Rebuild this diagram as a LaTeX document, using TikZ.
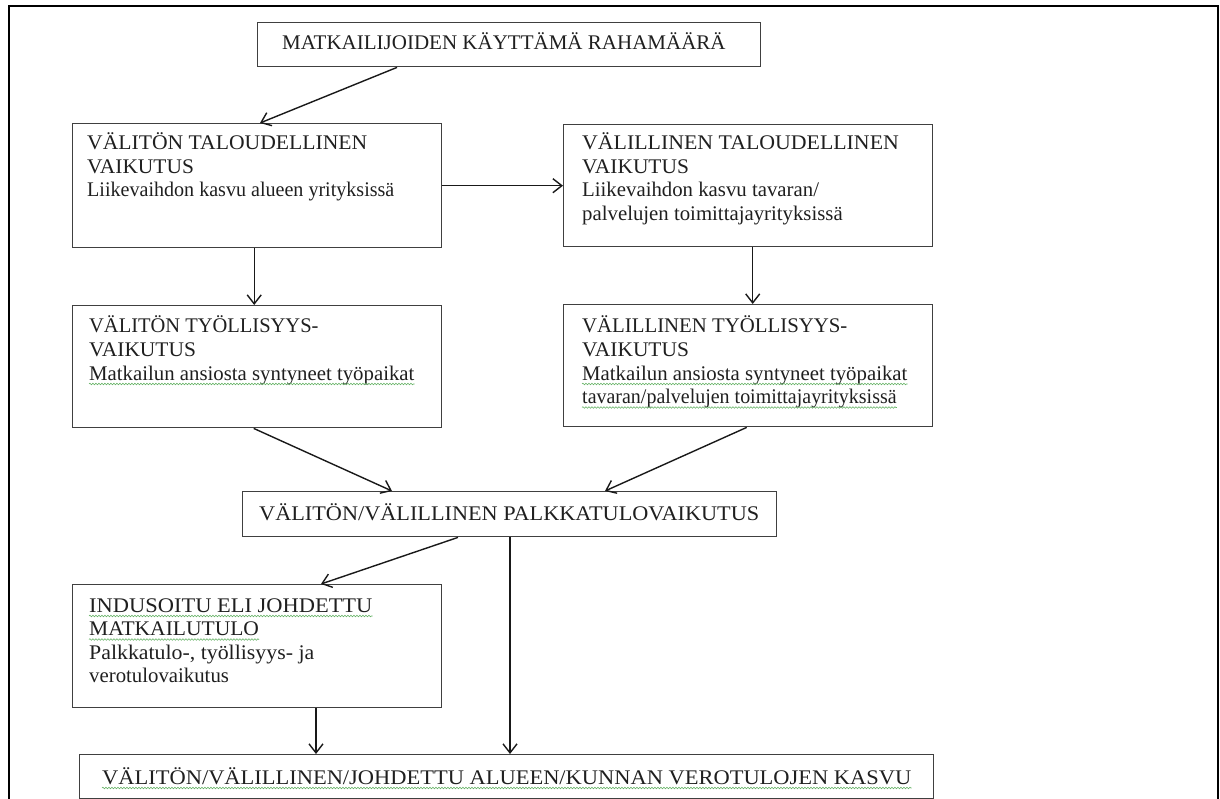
\documentclass[tikz,border=0pt]{standalone}
\usepackage{fontspec}
\usepackage{graphicx}
\setmainfont{Liberation Serif}
\usetikzlibrary{arrows.meta,decorations.pathmorphing,calc}
\newcommand\hsq[2]{\scalebox{#1}[1]{#2}}
\begin{document}
\begin{tikzpicture}[x=1pt,y=-1pt,
  box/.style={draw=black!75, line width=1.4pt, rectangle, inner sep=0, anchor=north west},
  txt/.style={anchor=base west, inner sep=0, text=black!88, font=\fontsize{20.8}{24}\selectfont},
  conn/.style={draw=black!90, line width=1.4pt, -{Straight Barb[length=9pt,width=14pt]}},
  squig/.style={draw=green!50!black!60, line width=0.6pt, decorate,
    decoration={snake, amplitude=0.8pt, segment length=3pt}},
  frame/.style={draw=black, line width=2.6pt}]
\useasboundingbox (0,0) rectangle (1220,799);
% outer frame
\draw[frame] (9,800) -- (9,6) -- (1218,6) -- (1218,800);

% boxes
\node[box, minimum width=503pt, minimum height=44pt] (A) at (257,22) {};
\node[box, minimum width=369pt, minimum height=124pt] (B) at (72,123) {};
\node[box, minimum width=369pt, minimum height=122pt] (C) at (563,124) {};
\node[box, minimum width=369pt, minimum height=122pt] (D) at (72,305) {};
\node[box, minimum width=369pt, minimum height=122pt] (E) at (563,304) {};
\node[box, minimum width=534pt, minimum height=45pt] (F) at (242,491) {};
\node[box, minimum width=369pt, minimum height=123pt] (G) at (72,584) {};
\node[box, minimum width=854pt, minimum height=44pt] (H) at (79,754) {};

% texts
\node[txt] (a1) at (282,50) {\hsq{1.01}{MATKAILIJOIDEN KÄYTTÄMÄ RAHAMÄÄRÄ}};

\node[txt] (b1) at (87,150) {\hsq{1.04}{VÄLITÖN TALOUDELLINEN}};
\node[txt] (b2) at (87,173.5) {\hsq{1.03}{VAIKUTUS}};
\node[txt] (b3) at (87,197) {\hsq{0.965}{Liikevaihdon kasvu alueen yrityksissä}};

\node[txt] (c1) at (582,150) {\hsq{1.05}{VÄLILLINEN TALOUDELLINEN}};
\node[txt] (c2) at (582,173.5) {\hsq{1.03}{VAIKUTUS}};
\node[txt] (c3) at (582,197) {Liikevaihdon kasvu tavaran/};
\node[txt] (c4) at (582,220.5) {palvelujen toimittajayrityksissä};

\node[txt] (d1) at (89,333) {\hsq{0.985}{VÄLITÖN TYÖLLISYYS-}};
\node[txt] (d2) at (89,356.5) {\hsq{1.03}{VAIKUTUS}};
\node[txt] (d3) at (89,380) {Matkailun ansiosta syntyneet työpaikat};

\node[txt] (e1) at (582,333) {VÄLILLINEN TYÖLLISYYS-};
\node[txt] (e2) at (582,356.5) {\hsq{1.03}{VAIKUTUS}};
\node[txt] (e3) at (582,380) {Matkailun ansiosta syntyneet työpaikat};
\node[txt] (e4) at (582,403.5) {\hsq{0.96}{tavaran/palvelujen toimittajayrityksissä}};

\node[txt] (f1) at (259,520) {\hsq{1.07}{VÄLITÖN/VÄLILLINEN PALKKATULOVAIKUTUS}};

\node[txt] (g1) at (89,612) {\hsq{1.08}{INDUSOITU ELI JOHDETTU}};
\node[txt] (g2) at (89,635.5) {\hsq{1.035}{MATKAILUTULO}};
\node[txt] (g3) at (89,659) {\hsq{1.05}{Palkkatulo-, työllisyys- ja}};
\node[txt] (g4) at (89,682.5) {verotulovaikutus};

\node[txt] (h1) at (102,784) {\hsq{1.08}{VÄLITÖN/VÄLILLINEN/JOHDETTU ALUEEN/KUNNAN VEROTULOJEN KASVU}};

% spelling squiggles
\foreach \n in {d3,e3,e4,g1,g2,h1}{
  \path[squig] ([yshift=-4pt]\n.base west) -- ([yshift=-4pt]\n.base east);
}

% connectors
\draw[conn] ([xshift=140pt]A.south west) -- ([xshift=188pt]B.north west);
\draw[conn] (B.east) -- (C.west);
\draw[conn] ([xshift=-3pt]B.south) -- ([xshift=-3pt]D.north);
\draw[conn] ([xshift=4.5pt]C.south) -- ([xshift=4.5pt]E.north);
\draw[conn] ([xshift=-3.5pt]D.south) -- ([xshift=150pt]F.north west);
\draw[conn] ([xshift=-1.5pt]E.south) -- ([xshift=363pt]F.north west);
\draw[conn] ([xshift=216pt]F.south west) -- ([xshift=249pt]G.north west);
\draw[conn] ([xshift=268pt]F.south west) coordinate (fs) -- (fs |- H.north);
\draw[conn] ([xshift=244pt]G.south west) coordinate (gs) -- (gs |- H.north);
\end{tikzpicture}
\end{document}
